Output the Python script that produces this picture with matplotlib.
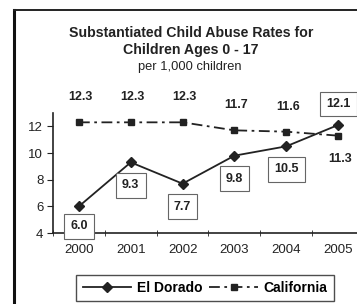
import matplotlib
matplotlib.use("Agg")
import matplotlib.pyplot as plt
from matplotlib.lines import Line2D
from matplotlib.ticker import FixedLocator

years = ["2000", "2001", "2002", "2003", "2004", "2005"]
el_dorado = [6.0, 9.3, 7.7, 9.8, 10.5, 12.1]
california = [12.3, 12.3, 12.3, 11.7, 11.6, 11.3]
y_ticks = [4, 6, 8, 10, 12]

plt.rcParams['font.family'] = ['Liberation Sans', 'DejaVu Sans']
W, H = 357, 304
fig = plt.figure(figsize=(W / 100, H / 100), dpi=100)
fig.patch.set_facecolor('white')

def fx(px):
    return px / W

def fy(py):
    return 1 - py / H

# outer frame (extends beyond image on right/bottom)
fig.add_artist(Line2D([fx(14), fx(14)], [fy(10), fy(310)], color='#111111', lw=2.2,
                      transform=fig.transFigure))
fig.add_artist(Line2D([fx(14), fx(360)], [fy(10), fy(10)], color='#222222', lw=1.4,
                      transform=fig.transFigure))

# titles
fig.text(fx(191), fy(33), "Substantiated Child Abuse Rates for", ha='center', va='center',
         fontsize=10.2, fontweight='bold', color='#222222')
fig.text(fx(191), fy(50), "Children Ages 0 - 17", ha='center', va='center',
         fontsize=10.2, fontweight='bold', color='#222222')
fig.text(fx(190), fy(67), "per 1,000 children", ha='center', va='center',
         fontsize=9.3, color='#222222')

ax = fig.add_axes([fx(53), fy(233), fx(364) - fx(53), fy(113) - fy(233)])
ax.set_facecolor('none')
x = list(range(len(years)))
ax.plot(x, el_dorado, color='#222222', lw=1.3, marker='D', markersize=5, label='El Dorado',
        clip_on=False)
ax.plot(x, california, color='#222222', lw=1.3, ls=(0, (6, 2.5, 1.5, 2.5)), marker='s',
        markersize=5, label='California', clip_on=False)
ax.set_xlim(-0.5, 5.5)
ax.set_ylim(4, 13)
ax.set_yticks(y_ticks)
ax.set_xticks(x)
ax.set_xticklabels(years)
ax.xaxis.set_minor_locator(FixedLocator([i + 0.5 for i in range(-1, 6)]))
ax.tick_params(axis='x', which='major', length=0, pad=8, labelsize=9.5, colors='#222222')
ax.tick_params(axis='x', which='minor', length=4, direction='inout', color='#222222')
ax.tick_params(axis='y', length=4, labelsize=9.5, colors='#222222', pad=3)
for s in ['top', 'right']:
    ax.spines[s].set_visible(False)
ax.spines['left'].set_color('#222222')
ax.spines['bottom'].set_color('#222222')
ax.spines['left'].set_linewidth(1.2)
ax.spines['bottom'].set_linewidth(1.2)

bbox = dict(boxstyle='square,pad=0.5', fc='white', ec='#666666', lw=0.8)
# California labels
for i, v in enumerate(california):
    dy = -23 if i == 5 else 25
    ax.annotate(f"{v:.1f}", (i, v), xytext=(2, dy), textcoords='offset pixels',
                ha='center', va='center', fontsize=9, fontweight='bold', color='#222222')
# El Dorado labels
for i, v in enumerate(el_dorado):
    dy = 21 if i == 5 else (-20 if i == 0 else -23)
    ax.annotate(f"{v:.1f}", (i, v), xytext=(0, dy), textcoords='offset pixels',
                ha='center', va='center', fontsize=9, fontweight='bold', color='#222222',
                bbox=bbox, annotation_clip=False)

leg = ax.legend(loc='center', bbox_to_anchor=(fx(205), fy(288)),
                bbox_transform=fig.transFigure, ncol=2, frameon=True, fancybox=False,
                edgecolor='#222222', handlelength=3.5, columnspacing=0.5, handletextpad=0.4,
                borderpad=0.45, prop={'weight': 'bold', 'size': 10})
leg.get_frame().set_linewidth(1.0)

fig.savefig("out.png", dpi=100, facecolor='white')
